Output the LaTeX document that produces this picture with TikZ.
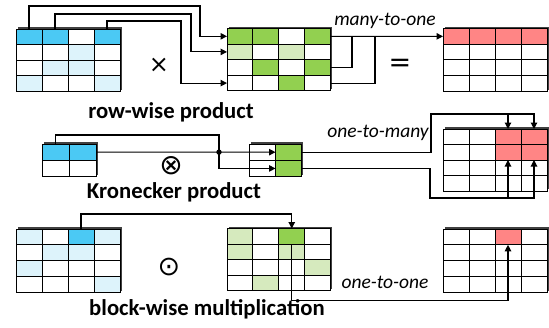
\documentclass[tikz,border=0pt]{standalone}
\usepackage{fontspec}
\setmainfont{Carlito}
\newfontfamily\symfont{DejaVu Sans}
\usetikzlibrary{arrows.meta}

\definecolor{bl}{HTML}{4BC9F4}
\definecolor{lb}{HTML}{DDF3FB}
\definecolor{gr}{HTML}{92D050}
\definecolor{lg}{HTML}{D6EABE}
\definecolor{rd}{HTML}{FF8585}
\colorlet{wh}{white}

\tikzset{
  cell/.style={draw=black, line width=0.85pt, inner sep=0pt, outer sep=0pt},
  depth/.style={fill=black!75},
  link/.style={line width=1.1pt},
  arr/.style={line width=1.1pt, -{Triangle[length=6.5pt,width=6.5pt]}},
  title/.style={font=\bfseries\fontsize{22.7}{26}\selectfont},
  kind/.style={font=\itshape\fontsize{19.5}{23}\selectfont},
  op/.style={font=\symfont\fontsize{24}{26}\selectfont, inner sep=0pt}
}

% #1 name, #2 left, #3 top, #4 cell width, #5 cell height,
% #6 columns, #7 rows, #8 fill colours row by row
\newcommand\cellgrid[8]{%
  \fill[depth] (#2+1.6,#3-1.6) rectangle (#2+#6*#4+1.6,#3+#7*#5-1.6);
  \foreach \rowcols [count=\r] in {#8}{
    \foreach \fc [count=\c] in \rowcols{
      \node[cell, minimum width=#4, minimum height=#5, fill=\fc]
        (#1-\r-\c) at (#2+\c*#4-#4/2, #3+\r*#5-#5/2) {};
    }
  }
}

\begin{document}
\begin{tikzpicture}[x=1pt, y=-1pt]
\useasboundingbox (0,0) rectangle (549,327);

% ---- row-wise product ----
\cellgrid{A1}{16}{29}{26}{15.6}{4}{4}{{bl,bl,wh,bl},{wh,wh,lb,wh},{wh,lb,lb,wh},{lb,wh,wh,lb}}
\cellgrid{G1}{227}{28.5}{25.9}{15.6}{4}{4}{{gr,gr,wh,gr},{lg,wh,lg,wh},{wh,gr,wh,gr},{wh,wh,gr,wh}}
\cellgrid{R1}{443}{28.5}{26}{15.7}{4}{4}{{rd,rd,rd,rd},{wh,wh,wh,wh},{wh,wh,wh,wh},{wh,wh,wh,wh}}

\draw[arr] (A1-1-1.north) -- ++(0,-23) -| ([xshift=-27pt]G1-1-1.west) -- (G1-1-1.west);
\draw[arr] (A1-1-2.north) -- ++(0,-15) -| ([xshift=-36pt]G1-2-1.west) -- (G1-2-1.west);
\draw[arr] (A1-1-4.north) -- ++(0,-8) -| ([xshift=-46pt]G1-4-1.west) -- (G1-4-1.west);

\draw[arr] (G1-1-4.east) -- (R1-1-1.west);
\draw[link] (G1-3-4.east) -| ([xshift=-91pt]R1-1-1.west);
\draw[link] (G1-4-4.east) -| ([xshift=-68pt]R1-1-1.west);

\node[op] (times) at (159,65) {×};
\node[op, font=\symfont\fontsize{27}{29}\selectfont] (equals) at (400,65) {=};
\node[kind] (m2o) at (385,21) {many-to-one};
\node[title] (t1) at (171,112) {row-wise product};

% ---- Kronecker product ----
\cellgrid{A2}{42}{144}{27}{16.3}{2}{2}{{bl,bl},{wh,wh}}
\cellgrid{K}{249.5}{144}{26}{16.3}{2}{2}{{wh,gr},{wh,gr}}
\cellgrid{R2}{443}{129}{26}{15.5}{4}{4}{{wh,wh,rd,rd},{wh,wh,rd,rd},{wh,wh,wh,wh},{wh,wh,wh,wh}}

\coordinate (kd) at (219,152.15);
\draw[link] (A2-1-1.north) -- ++(0,-9) -| (kd);
\draw[link] (A2-1-2.east) -- (kd);
\fill (kd) circle (2.7);
\draw[arr] (kd) -- (K-1-2.west);
\draw[arr] (kd) |- (K-2-2.west);

\coordinate (topbar) at (431,114);
\coordinate (botbar) at (430,198);
\draw[arr] (K-1-2.east) -| (topbar) -| (R2-1-4.north);
\draw[arr] (R2-1-3.north |- topbar) -- (R2-1-3.north);
\draw[arr] (K-2-2.east) -| (botbar) -| (R2-2-4.south);
\draw[arr] (R2-2-3.south |- botbar) -- (R2-2-3.south);

\node[op, font=\symfont\fontsize{28}{30}\selectfont] (kron) at (171,166) {⊗};
\node[kind] (o2m) at (378,133) {one-to-many};
\node[title] (t2) at (174,192) {Kronecker product};

% ---- block-wise multiplication ----
\cellgrid{A3}{16}{229}{26}{15.8}{4}{4}{{lb,wh,bl,lb},{wh,lb,lb,wh},{lb,wh,wh,wh},{wh,wh,wh,lb}}
\cellgrid{G3}{227}{228.5}{25.9}{15.6}{4}{4}{{lg,wh,gr,wh},{lg,wh,lg,wh},{wh,wh,wh,lg},{wh,lg,wh,wh}}
\cellgrid{R3}{443}{229}{26}{15.8}{4}{4}{{wh,wh,rd,wh},{wh,wh,wh,wh},{wh,wh,wh,wh},{wh,wh,wh,wh}}

\draw[arr] (A3-1-3.north) -- ++(0,-15) -| (G3-1-3.north);
\draw[arr] (G3-1-3.south) -- ++(0,56) -| (R3-1-3.south);

\node[op, font=\symfont\fontsize{27}{29}\selectfont] (had) at (169,267) {⊙};
\node[kind] (o2o) at (385,282) {one-to-one};
\node[title] (t3) at (207,309) {block-wise multiplication};
\end{tikzpicture}
\end{document}
